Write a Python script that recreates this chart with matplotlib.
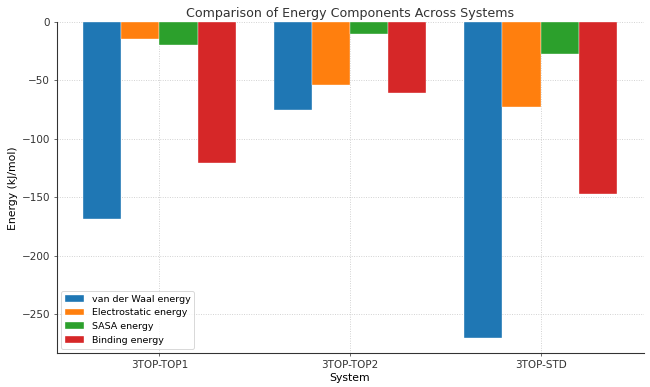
import numpy as np
import matplotlib
matplotlib.use('Agg')
import matplotlib.pyplot as plt

systems = ['3TOP-TOP1', '3TOP-TOP2', '3TOP-STD']
vdw = [-168.4, -75.3, -270.1]
elec = [-14.6, -54.1, -72.5]
sasa = [-19.5, -10.6, -27.2]
binding = [-120.6, -61.0, -146.9]

series = [('van der Waal energy', vdw, '#1f77b4'),
          ('Electrostatic energy', elec, '#ff7f0e'),
          ('SASA energy', sasa, '#2ca02c'),
          ('Binding energy', binding, '#d62728')]

fig, ax = plt.subplots(figsize=(10, 5.954), dpi=65)
x = np.arange(len(systems))
width = 0.2

for i, (name, vals, col) in enumerate(series):
    ax.bar(x + (i - 1.5) * width, vals, width, label=name, color=col,
           edgecolor='white', linewidth=0.4, zorder=2)

ax.set_xticks(x)
ax.set_xticklabels(systems)
ax.set_xlabel('System', fontsize=12)
ax.set_ylabel('Energy (kJ/mol)', fontsize=12)
ax.set_title('Comparison of Energy Components Across Systems', fontsize=14, color='#333333')
ax.tick_params(labelsize=11.5, colors='#333333')
ax.grid(True, linestyle=':', color='#cccccc', linewidth=1, zorder=0)
ax.set_axisbelow(True)
for s in ['top', 'right']:
    ax.spines[s].set_visible(False)
for s in ['left', 'bottom']:
    ax.spines[s].set_color('#333333')
    ax.spines[s].set_linewidth(1.2)
leg = ax.legend(loc='lower left', fontsize=10.5, edgecolor='#cccccc')

plt.subplots_adjust(left=0.087, right=0.99, top=0.943, bottom=0.087)
plt.savefig('out.png')
